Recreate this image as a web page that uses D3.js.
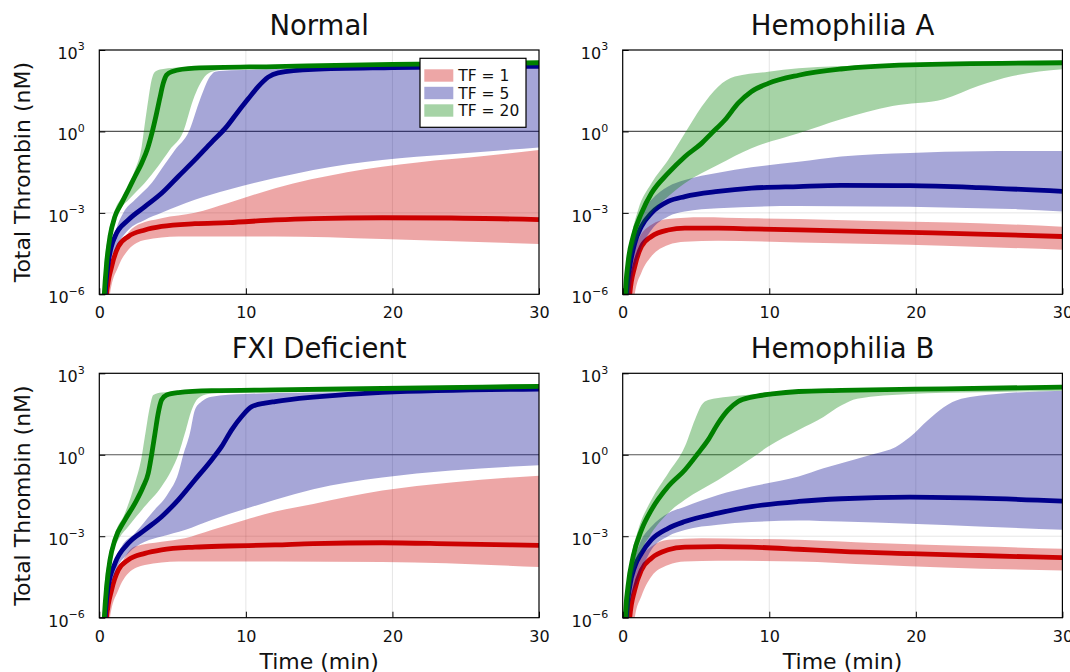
<!DOCTYPE html>
<html>
<head>
<meta charset="utf-8">
<script src="https://cdn.jsdelivr.net/npm/d3@7"></script>
<style>
  body { margin: 0; background: #fff; }
  svg { display: block; font-family: "DejaVu Sans", sans-serif; }
</style>
</head>
<body>
<svg id="chart" width="1070" height="672"></svg>
<script>
// Axis ticks: time in minutes, thrombin in decades (log10 nM)
const timeTicks = [0, 10, 20, 30];
const thrombinDecades = [-6, -3, 0, 3];
const referenceLevel = 1; // nM, horizontal reference line
const seriesLabels = ["TF = 1", "TF = 5", "TF = 20"];
const panelTitles = ["Normal", "Hemophilia A", "FXI Deficient", "Hemophilia B"];

// Every curve is a list of [time (min), log10 total thrombin (nM)].
// mean = central trajectory, lower/upper = envelope of the ribbon.

// ---- Normal ----
const normalTF1 = {
  mean:  [[0.42,-7],[0.5,-6],[0.84,-4.98],[1.3,-4.24],[1.98,-3.87],[3.11,-3.63],[4.25,-3.5],[6.52,-3.4],[8.8,-3.36],[12,-3.26],[14.6,-3.21],[19.3,-3.18],[24,-3.19],[30,-3.25]],
  lower: [[0.65,-7],[0.73,-6],[1.3,-4.98],[1.98,-4.36],[3.11,-4.0],[5.39,-3.87],[12,-3.87],[19.3,-3.96],[30,-4.15]],
  upper: [[0.6,-7],[0.84,-4.98],[1.52,-4.12],[2.43,-3.5],[4.25,-3.2],[6.52,-3.0],[8.8,-2.64],[12,-2.09],[16.9,-1.5],[21.7,-1.14],[26.4,-0.9],[30,-0.68]]
};
const normalTF5 = {
  mean:  [[0.3,-7],[0.39,-6],[0.61,-4.85],[1.07,-3.87],[1.98,-3.26],[3.11,-2.77],[4.25,-2.28],[5.39,-1.66],[6.52,-1.05],[7.66,-0.4],[8.6,0.12],[9.4,0.68],[10.16,1.2],[10.84,1.65],[11.52,2.0],[12.2,2.16],[14.6,2.29],[20,2.35],[30,2.4]],
  lower: [[0.5,-7],[0.73,-4.85],[1.07,-4.36],[1.98,-3.63],[3.11,-3.26],[4.25,-3.0],[6.52,-2.52],[8.8,-2.15],[12,-1.72],[14.6,-1.42],[19.3,-1.05],[24,-0.84],[30,-0.59]],
  upper: [[0.4,-7],[0.61,-4.9],[1.07,-3.75],[1.64,-3.0],[2.43,-2.52],[3.57,-1.9],[4.36,-1.29],[5.16,-0.68],[6.11,0],[6.86,1.16],[7.55,2.02],[7.9,2.2],[9,2.25],[14,2.32],[20,2.37],[30,2.42]]
};
const normalTF20 = {
  mean:  [[0.25,-7],[0.34,-6],[0.5,-4.85],[0.73,-3.87],[1.07,-3.13],[1.52,-2.64],[1.98,-2.15],[2.43,-1.66],[2.89,-1.17],[3.3,-0.62],[3.62,0],[3.88,0.6],[4.12,1.2],[4.36,1.77],[4.59,2.08],[4.93,2.2],[6.5,2.33],[12,2.39],[20,2.47],[30,2.53]],
  lower: [[0.45,-7],[0.6,-4.9],[0.84,-3.75],[1.3,-3.0],[2.0,-2.52],[3.1,-1.9],[4.0,-1.29],[4.8,-0.68],[5.73,0],[6.4,1.16],[7.2,2.02],[7.66,2.2],[9,2.3],[15,2.36],[30,2.45]],
  upper: [[0.22,-7],[0.34,-4.98],[0.61,-3.87],[1.07,-2.89],[1.75,-2.28],[2.43,-1.42],[2.89,-0.56],[3.11,0.3],[3.34,1.16],[3.57,1.9],[3.8,2.2],[4.25,2.29],[6,2.37],[12,2.43],[20,2.5],[30,2.58]]
};

// ---- Hemophilia A ----
const hemATF1 = {
  mean:  [[0.4,-7],[0.48,-6],[0.82,-4.98],[1.28,-4.24],[1.96,-3.87],[3.1,-3.63],[4.24,-3.56],[6.51,-3.56],[8.79,-3.59],[12,-3.63],[14.9,-3.66],[19.6,-3.72],[24.3,-3.78],[30,-3.87]],
  lower: [[0.7,-7],[0.82,-6],[1.28,-5.2],[1.96,-4.6],[3.1,-4.18],[4.24,-4.06],[6.51,-4.03],[12,-4.09],[17.2,-4.15],[21.9,-4.21],[30,-4.36]],
  upper: [[0.45,-7],[0.59,-4.98],[1.05,-4.0],[1.96,-3.44],[3.1,-3.23],[5.38,-3.16],[8.79,-3.2],[12,-3.23],[17.2,-3.3],[24.3,-3.38],[30,-3.51]]
};
const hemATF5 = {
  mean:  [[0.18,-7],[0.25,-6],[0.48,-4.98],[0.82,-4.12],[1.28,-3.5],[1.96,-3.01],[3.1,-2.58],[4.24,-2.4],[6.51,-2.21],[8.79,-2.09],[12,-2.03],[14.9,-1.99],[19.6,-2.0],[24.3,-2.07],[30,-2.21]],
  lower: [[0.4,-7],[0.59,-5.6],[1.05,-4.6],[1.96,-3.63],[3.1,-3.13],[4.24,-2.95],[6.51,-2.83],[12,-2.75],[17.2,-2.77],[21.9,-2.8],[26.6,-2.86],[30,-2.95]],
  upper: [[0.25,-7],[0.36,-4.9],[0.71,-3.87],[1.28,-3.01],[1.96,-2.52],[3.1,-2.03],[4.24,-1.79],[6.51,-1.52],[8.79,-1.32],[12,-1.12],[14.9,-0.92],[19.6,-0.79],[24.3,-0.73],[30,-0.72]]
};
const hemATF20 = {
  mean:  [[0.12,-7],[0.18,-6],[0.36,-4.85],[0.71,-3.87],[1.28,-3.01],[1.96,-2.28],[3.1,-1.54],[4.24,-0.93],[5.38,-0.44],[6.06,-0.07],[6.97,0.42],[7.88,1.04],[8.79,1.47],[9.93,1.77],[12,2.07],[14.9,2.3],[19.6,2.45],[30,2.53]],
  lower: [[0.35,-7],[0.59,-4.85],[1.05,-3.87],[1.96,-3.01],[3.1,-2.4],[4.24,-1.91],[6.51,-1.23],[8.79,-0.62],[12,-0.07],[14.9,0.45],[18.4,0.94],[21.9,1.19],[24.3,1.68],[26.6,2.04],[30,2.29]],
  upper: [[0.2,-7],[0.32,-4.85],[0.59,-3.87],[1.05,-2.89],[1.96,-1.91],[3.1,-1.05],[4.24,-0.07],[5.38,0.91],[6.51,1.65],[7.65,2.02],[9.93,2.2],[12,2.33],[17.2,2.44],[30,2.55]]
};

// ---- FXI Deficient ----
const fxiTF1 = {
  mean:  [[0.42,-7],[0.5,-6],[0.84,-4.98],[1.3,-4.24],[1.98,-3.87],[3.11,-3.63],[4.25,-3.5],[6.52,-3.4],[8.8,-3.36],[12,-3.32],[14.6,-3.27],[19.3,-3.24],[24,-3.28],[30,-3.34]],
  lower: [[0.65,-7],[0.73,-6],[1.3,-4.98],[1.98,-4.36],[3.11,-4.06],[5.39,-3.93],[12,-3.93],[19.3,-3.95],[30,-4.13]],
  upper: [[0.6,-7],[0.84,-4.98],[1.52,-4.0],[2.43,-3.38],[4.25,-3.2],[5.84,-3.07],[7.66,-2.77],[9.93,-2.4],[12,-2.09],[14.6,-1.81],[19.3,-1.32],[24,-1.02],[30,-0.77]]
};
const fxiTF5 = {
  mean:  [[0.3,-7],[0.39,-6],[0.61,-4.85],[1.07,-4.0],[1.98,-3.26],[3.11,-2.77],[4.25,-2.28],[5.39,-1.66],[6.52,-0.93],[7.66,-0.19],[8.34,0.3],[9.02,0.91],[9.7,1.4],[10.4,1.77],[11.3,1.9],[12,1.96],[14.6,2.12],[19.3,2.3],[30,2.42]],
  lower: [[0.5,-7],[0.73,-4.98],[1.07,-4.36],[1.98,-3.63],[3.11,-3.2],[4.25,-3.01],[5.84,-2.77],[7.66,-2.4],[9.93,-2.0],[12,-1.66],[14.6,-1.27],[19.3,-0.84],[24,-0.58],[30,-0.39]],
  upper: [[0.4,-7],[0.6,-5],[0.95,-4.1],[1.52,-3.38],[2.43,-2.89],[3.57,-2.15],[4.7,-1.42],[5.39,-0.68],[5.73,0],[6.18,0.79],[6.52,1.65],[6.98,1.96],[7.66,2.14],[9.93,2.24],[16.9,2.3],[30,2.4]]
};
const fxiTF20 = {
  mean:  [[0.25,-7],[0.34,-6],[0.5,-4.85],[0.73,-3.87],[1.07,-3.13],[1.75,-2.4],[2.43,-1.79],[3.0,-1.17],[3.34,-0.68],[3.57,0],[3.8,0.79],[4.02,1.53],[4.25,2.02],[4.59,2.2],[5.39,2.29],[7.66,2.36],[12,2.39],[19.3,2.44],[30,2.52]],
  lower: [[0.45,-7],[0.6,-4.9],[0.84,-3.75],[1.3,-3.13],[1.98,-2.64],[3.11,-1.9],[4.25,-1.17],[4.93,-0.56],[5.39,0],[5.84,0.79],[6.3,1.65],[6.75,2.08],[7.43,2.24],[9.93,2.29],[30,2.44]],
  upper: [[0.22,-7],[0.34,-4.98],[0.61,-3.87],[1.07,-2.89],[1.75,-2.15],[2.43,-1.05],[2.89,-0.07],[3.11,0.67],[3.45,1.77],[3.68,2.2],[4.25,2.29],[6.52,2.36],[12,2.42],[20,2.5],[30,2.6]]
};

// ---- Hemophilia B ----
const hemBTF1 = {
  mean:  [[0.4,-7],[0.48,-6],[0.82,-4.98],[1.28,-4.24],[1.96,-3.81],[3.1,-3.5],[4.24,-3.4],[6.51,-3.38],[8.79,-3.4],[12,-3.48],[14.9,-3.56],[19.6,-3.64],[24.3,-3.71],[30,-3.79]],
  lower: [[0.7,-7],[0.82,-6],[1.28,-5.2],[1.96,-4.48],[3.1,-4.06],[4.24,-3.93],[6.51,-3.9],[12,-3.93],[17.2,-4.05],[21.9,-4.15],[30,-4.26]],
  upper: [[0.45,-7],[0.59,-4.98],[1.05,-4.0],[1.96,-3.38],[3.1,-3.13],[5.38,-3.07],[8.79,-3.1],[12,-3.13],[17.2,-3.25],[24.3,-3.37],[30,-3.46]]
};
const hemBTF5 = {
  mean:  [[0.18,-7],[0.25,-6],[0.48,-4.85],[0.82,-4.12],[1.28,-3.63],[1.96,-3.13],[3.1,-2.71],[4.24,-2.46],[6.51,-2.15],[8.79,-1.91],[12,-1.72],[14.9,-1.62],[19.6,-1.56],[24.3,-1.6],[30,-1.71]],
  lower: [[0.4,-7],[0.48,-5.6],[1.05,-4.6],[1.96,-3.5],[3.1,-3.0],[4.24,-2.77],[6.51,-2.58],[8.79,-2.48],[12,-2.42],[14.9,-2.46],[19.6,-2.54],[24.3,-2.64],[30,-2.76]],
  upper: [[0.25,-7],[0.36,-4.85],[0.71,-4.0],[1.28,-3.13],[1.96,-2.64],[3.1,-2.15],[4.24,-1.91],[6.51,-1.48],[8.79,-1.17],[12,-0.8],[13.7,-0.5],[16.0,-0.15],[17.2,0.04],[18.6,0.28],[19.6,0.65],[20.8,1.26],[21.9,1.75],[23.1,2.06],[25.5,2.24],[30,2.36]]
};
const hemBTF20 = {
  mean:  [[0.12,-7],[0.18,-6],[0.36,-4.85],[0.71,-3.75],[1.28,-2.77],[1.96,-2.03],[3.1,-1.17],[4.24,-0.56],[5.15,0.06],[5.83,0.55],[6.51,1.16],[7.2,1.65],[7.88,1.96],[8.79,2.12],[10.2,2.24],[12,2.33],[14.9,2.37],[21.9,2.43],[30,2.49]],
  lower: [[0.4,-7],[0.59,-4.85],[1.05,-3.87],[1.96,-2.89],[3.1,-2.15],[4.24,-1.66],[6.51,-0.93],[8.79,-0.13],[9.93,0.3],[12,0.91],[13.7,1.39],[14.9,1.81],[16.0,2.06],[19.6,2.24],[24.3,2.3],[30,2.36]],
  upper: [[0.2,-7],[0.32,-4.85],[0.59,-3.75],[1.05,-2.77],[1.96,-1.66],[3.1,-0.68],[4.24,0.3],[4.92,1.28],[5.38,1.83],[5.83,2.02],[7.2,2.14],[9.93,2.26],[12,2.33],[19.6,2.46],[30,2.55]]
};

// ---- styling and layout ----
const lineColors = ["#cc0000", "#00008b", "#008000"];
const ribbonAlpha = 0.35;

const layout = [
  { x0: 99.3,  x1: 539,    y0: 50,    y1: 294.3, legend: true,  yLabel: true,  xLabel: false },
  { x0: 622.7, x1: 1062.4, y0: 50,    y1: 294.3, legend: false, yLabel: false, xLabel: false },
  { x0: 99.3,  x1: 539,    y0: 373.3, y1: 617.7, legend: false, yLabel: true,  xLabel: true },
  { x0: 622.7, x1: 1062.4, y0: 373.3, y1: 617.7, legend: false, yLabel: false, xLabel: true }
];
const panelSeries = [
  [normalTF1, normalTF5, normalTF20],
  [hemATF1, hemATF5, hemATF20],
  [fxiTF1, fxiTF5, fxiTF20],
  [hemBTF1, hemBTF5, hemBTF20]
];

const svg = d3.select("#chart");
const defs = svg.append("defs");
const FONT = "DejaVu Sans, sans-serif";
const supText = e => (e < 0 ? "\u2212" + Math.abs(e) : String(e));

layout.forEach((p, i) => {
  const g = svg.append("g");
  const x = d3.scaleLinear().domain([0, 30]).range([p.x0, p.x1]);
  const y = d3.scaleLog().domain([1e-6, 1e3]).range([p.y1, p.y0]);
  const clipId = "clip" + i;
  defs.append("clipPath").attr("id", clipId)
    .append("rect").attr("x", p.x0).attr("y", p.y0)
    .attr("width", p.x1 - p.x0).attr("height", p.y1 - p.y0);

  const plot = g.append("g").attr("clip-path", `url(#${clipId})`);

  // faint grid
  plot.selectAll(".vgrid").data(timeTicks.slice(1, -1)).join("line")
    .attr("x1", d => x(d)).attr("x2", d => x(d))
    .attr("y1", p.y0).attr("y2", p.y1)
    .attr("stroke", "rgba(0,0,0,0.1)").attr("stroke-width", 1);
  plot.selectAll(".hgrid").data([-3]).join("line")
    .attr("x1", p.x0).attr("x2", p.x1)
    .attr("y1", d => y(10 ** d)).attr("y2", d => y(10 ** d))
    .attr("stroke", "rgba(0,0,0,0.1)").attr("stroke-width", 1);

  // 1 nM reference line
  plot.append("line")
    .attr("x1", p.x0).attr("x2", p.x1)
    .attr("y1", y(referenceLevel)).attr("y2", y(referenceLevel))
    .attr("stroke", "#555").attr("stroke-width", 1.2);

  const line = d3.line()
    .x(d => x(d[0]))
    .y(d => y(10 ** d[1]))
    .curve(d3.curveMonotoneX);

  panelSeries[i].forEach((s, k) => {
    const top = line(s.upper);
    const bottom = line(s.lower.slice().reverse()).replace(/^M/, "L");
    plot.append("path")
      .attr("d", top + bottom + "Z")
      .attr("fill", lineColors[k])
      .attr("fill-opacity", ribbonAlpha)
      .attr("stroke", "none");
    plot.append("path")
      .attr("d", line(s.mean))
      .attr("fill", "none")
      .attr("stroke", lineColors[k])
      .attr("stroke-width", 4.8)
      .attr("stroke-linejoin", "round");
  });

  // frame
  g.append("rect")
    .attr("x", p.x0).attr("y", p.y0)
    .attr("width", p.x1 - p.x0).attr("height", p.y1 - p.y0)
    .attr("fill", "none").attr("stroke", "#000").attr("stroke-width", 1.2);

  // x axis
  const xa = g.append("g").attr("transform", `translate(0,${p.y1})`)
    .call(d3.axisBottom(x).tickValues(timeTicks).tickSizeInner(-6).tickSizeOuter(0).tickPadding(12.8));
  xa.select(".domain").remove();
  xa.attr("font-size", 16).attr("font-family", FONT);
  xa.selectAll(".tick text").attr("fill", "#111");

  // y axis with power-of-ten labels
  const ya = g.append("g").attr("transform", `translate(${p.x0},0)`)
    .call(d3.axisLeft(y).tickValues(thrombinDecades.map(e => 10 ** e))
      .tickSizeInner(-6).tickSizeOuter(0).tickPadding(14.5).tickFormat(() => ""));
  ya.select(".domain").remove();
  ya.attr("font-size", 16).attr("font-family", FONT);
  ya.selectAll(".tick text").each(function (d) {
    const t = d3.select(this).text(null).attr("dy", "0.52em").attr("fill", "#111");
    t.append("tspan").text("10");
    t.append("tspan").attr("dy", -8.5).attr("font-size", 11).text(supText(Math.round(Math.log10(d))));
  });

  // title
  g.append("text")
    .attr("x", (p.x0 + p.x1) / 2).attr("y", p.y0 - 15.5)
    .attr("text-anchor", "middle").attr("font-size", 27.5).attr("font-family", FONT)
    .attr("fill", "#111").text(panelTitles[i]);

  if (p.yLabel) {
    g.append("text")
      .attr("transform", `translate(29.5,${(p.y0 + p.y1) / 2}) rotate(-90)`)
      .attr("text-anchor", "middle").attr("font-size", 22).attr("font-family", FONT)
      .attr("fill", "#111").text("Total Thrombin (nM)");
  }
  if (p.xLabel) {
    g.append("text")
      .attr("x", (p.x0 + p.x1) / 2).attr("y", p.y1 + 51.6)
      .attr("text-anchor", "middle").attr("font-size", 22).attr("font-family", FONT)
      .attr("fill", "#111").text("Time (min)");
  }

  if (p.legend) {
    const lx = p.x1 - 119, ly = p.y0 + 8.3, lw = 106, lh = 69;
    const lg = g.append("g");
    lg.append("rect").attr("x", lx).attr("y", ly).attr("width", lw).attr("height", lh)
      .attr("fill", "#fff").attr("stroke", "#000").attr("stroke-width", 1.2);
    seriesLabels.forEach((lab, k) => {
      const cy = ly + 17.2 + k * 17.5;
      lg.append("rect").attr("x", lx + 4.3).attr("y", cy - 6.2)
        .attr("width", 29).attr("height", 12.4)
        .attr("fill", lineColors[k]).attr("fill-opacity", ribbonAlpha);
      lg.append("text").attr("x", lx + 38.3).attr("y", cy + 5.5)
        .attr("font-size", 15.5).attr("font-family", FONT).attr("fill", "#111").text(lab);
    });
  }
});
</script>
</body>
</html>
